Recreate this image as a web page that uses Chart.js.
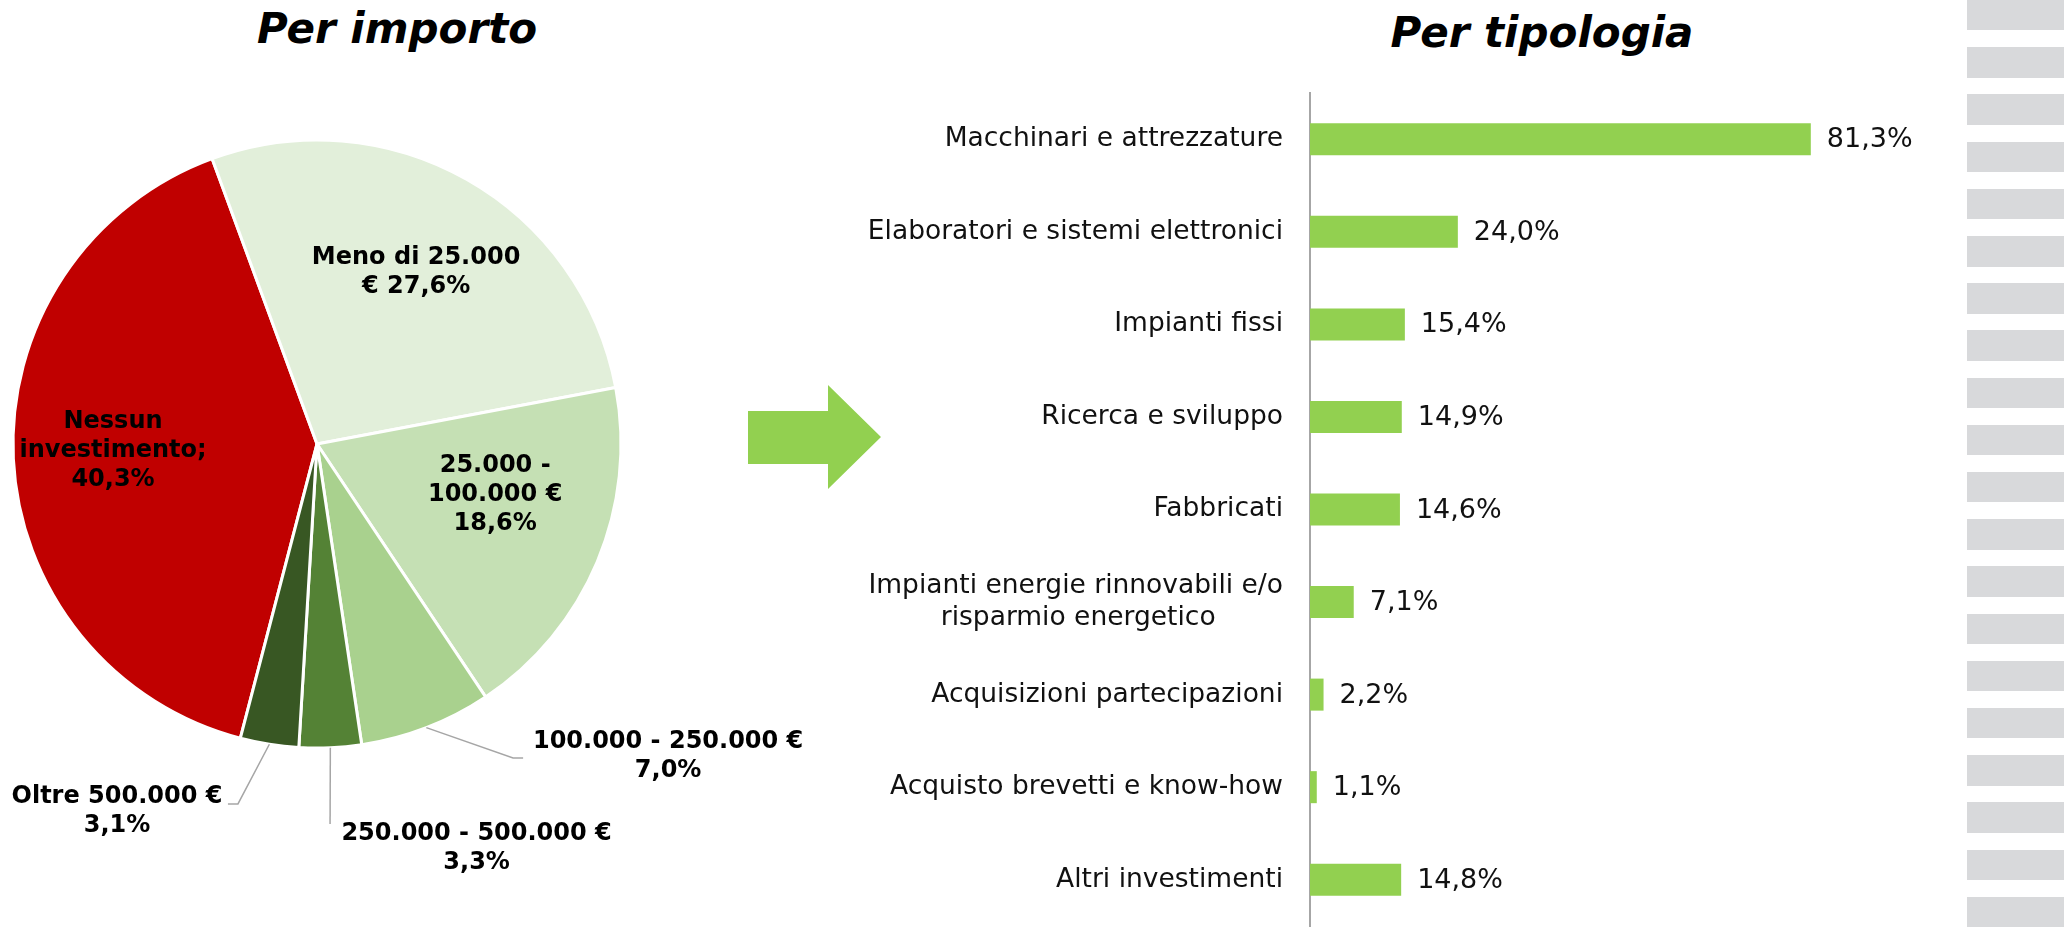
<!DOCTYPE html>
<html>
<head>
<meta charset="utf-8">
<script src="https://cdn.jsdelivr.net/npm/chart.js@4.4.1/dist/chart.umd.min.js"></script>
<style>
html, body { margin: 0; padding: 0; background: #fff; }
#page { position: relative; width: 2064px; height: 929px; overflow: hidden; }
.title { position: absolute; font: italic bold 42px/42px 'DejaVu Sans', sans-serif; color: #000; white-space: nowrap; transform: translateX(-50%); }
#pieChart { position: absolute; left: 0; top: 0; }
#barChart { position: absolute; left: 800px; top: 0; }
#arrow { position: absolute; left: 0; top: 0; }
#stripes { position: absolute; left: 1967px; top: 0; width: 97px; height: 929px;
  background: repeating-linear-gradient(to bottom, #d8d9db 0, #d8d9db 30.5px, #fff 30.5px, #fff 47.2px); }
</style>
</head>
<body>
<div id="page">
  <div class="title" style="left:397px; top:8px;">Per importo</div>
  <div class="title" style="left:1542px; top:12px;">Per tipologia</div>
  <canvas id="pieChart" width="820" height="929"></canvas>
  <canvas id="barChart" width="1160" height="929"></canvas>
  <svg id="arrow" width="900" height="929"><polygon points="748,411 828,411 828,385 881,437 828,489 828,464 748,464" fill="#92D050"/></svg>
  <div id="stripes"></div>
</div>
<script>
// dati torta
var pieCategories = ['Nessun investimento', 'Meno di 25.000 €', '25.000 - 100.000 €', '100.000 - 250.000 €', '250.000 - 500.000 €', 'Oltre 500.000 €'];
var pieValues = [40.3, 27.6, 18.6, 7.0, 3.3, 3.1];
var pieText = ['Nessun\ninvestimento;\n{v}', 'Meno di 25.000\n€ {v}', '25.000 -\n100.000 €\n{v}', '100.000 - 250.000 €\n{v}', '250.000 - 500.000 €\n{v}', 'Oltre 500.000 €\n{v}'];
var pieColors = ['#C00000', '#E2EFDA', '#C5E0B4', '#A9D18E', '#548235', '#385723'];

// dati barre
var barCategories = ['Macchinari e attrezzature', 'Elaboratori e sistemi elettronici', 'Impianti fissi', 'Ricerca e sviluppo', 'Fabbricati', ['Impianti energie rinnovabili e/o', 'risparmio energetico'], 'Acquisizioni partecipazioni', 'Acquisto brevetti e know-how', 'Altri investimenti'];
var barValues = [81.3, 24.0, 15.4, 14.9, 14.6, 7.1, 2.2, 1.1, 14.8];

function fmt(v) { return v.toFixed(1).replace('.', ',') + '%'; }

// centra le righe di un'etichetta multiriga allineata a destra
var measureCtx = document.createElement('canvas').getContext('2d');
function centerLines(lbl, font) {
    if (!Array.isArray(lbl)) return lbl;
    measureCtx.font = font;
    var ws = lbl.map(function (t) { return measureCtx.measureText(t).width; });
    var maxW = Math.max.apply(null, ws);
    var sp = measureCtx.measureText('\u00a0').width;
    return lbl.map(function (t, i) {
        return t + '\u00a0'.repeat(Math.round((maxW - ws[i]) / 2 / sp));
    });
}

// etichette torta con linee guida
var pieLabelsPlugin = {
    id: 'pieLabels',
    afterDatasetsDraw: function (chart, args, opts) {
        var ctx = chart.ctx;
        var arcs = chart.getDatasetMeta(0).data;
        ctx.save();
        ctx.font = 'bold 24px "DejaVu Sans"';
        ctx.fillStyle = '#000';
        ctx.textAlign = 'center';
        ctx.textBaseline = 'middle';
        ctx.strokeStyle = '#A6A6A6';
        ctx.lineWidth = 1.5;
        arcs.forEach(function (arc, i) {
            var R = arc.outerRadius, cx = arc.x, cy = arc.y;
            var pos = opts.positions[i];
            if (pos[2]) {
                var mid = (arc.startAngle + arc.endAngle) / 2;
                ctx.beginPath();
                ctx.moveTo(cx + Math.cos(mid) * R, cy + Math.sin(mid) * R);
                pos[2].forEach(function (p) { ctx.lineTo(cx + p[0] * R, cy + p[1] * R); });
                ctx.stroke();
            }
            var lines = pieText[i].replace('{v}', fmt(pieValues[i])).split('\n');
            var lx = cx + pos[0] * R, ly = cy + pos[1] * R;
            lines.forEach(function (t, k) {
                ctx.fillText(t, lx, ly + (k - (lines.length - 1) / 2) * 29);
            });
        });
        ctx.restore();
    }
};

// valori a destra delle barre
var barLabelsPlugin = {
    id: 'barLabels',
    afterDatasetsDraw: function (chart) {
        var ctx = chart.ctx;
        ctx.save();
        ctx.font = '27px "DejaVu Sans"';
        ctx.fillStyle = '#111';
        ctx.textAlign = 'left';
        ctx.textBaseline = 'middle';
        chart.getDatasetMeta(0).data.forEach(function (bar, i) {
            ctx.fillText(fmt(barValues[i]), bar.x + 16, bar.y + 1);
        });
        ctx.restore();
    }
};

var pieChart = new Chart(document.getElementById('pieChart').getContext('2d'), {
    type: 'pie',
    data: {
        labels: pieCategories,
        datasets: [{
            data: pieValues,
            backgroundColor: pieColors,
            borderColor: '#fff',
            borderWidth: 3
        }]
    },
    options: {
        responsive: false,
        animation: false,
        rotation: -165.4,
        layout: { padding: { left: 11.5, top: 138.5, right: 197.5, bottom: 179.5 } },
        plugins: {
            legend: { display: false },
            tooltip: { enabled: false },
            pieLabels: {
                positions: [
                    [-0.671, 0.023],
                    [0.326, -0.566],
                    [0.586, 0.168],
                    [1.155, 1.028, [[0.645, 1.033], [0.678, 1.033]]],
                    [0.525, 1.329, [[0.043, 1.25]]],
                    [-0.658, 1.207, [[-0.26, 1.184], [-0.293, 1.184]]]
                ]
            }
        }
    },
    plugins: [pieLabelsPlugin]
});

var tickFont = '26.5px "DejaVu Sans"';
var barChart = new Chart(document.getElementById('barChart').getContext('2d'), {
    type: 'bar',
    data: {
        labels: barCategories.map(function (l) { return centerLines(l, tickFont); }),
        datasets: [{
            data: barValues,
            backgroundColor: '#92D050',
            barPercentage: 0.346,
            categoryPercentage: 1
        }]
    },
    options: {
        indexAxis: 'y',
        responsive: false,
        animation: false,
        layout: { padding: { top: 93, bottom: 3, left: 0, right: 34 } },
        plugins: {
            legend: { display: false },
            tooltip: { enabled: false }
        },
        scales: {
            x: { display: false, min: 0, max: 100 },
            y: {
                grid: { display: false, drawTicks: false },
                border: { display: true, color: '#A6A6A6', width: 2 },
                ticks: {
                    autoSkip: false,
                    padding: 27,
                    color: '#111',
                    font: { family: 'DejaVu Sans', size: 26.5, lineHeight: 1.2 }
                },
                afterFit: function (scale) {
                    scale.width = 510;
                    scale.paddingTop = 0;
                    scale.paddingBottom = 0;
                }
            }
        }
    },
    plugins: [barLabelsPlugin]
});
</script>
</body>
</html>
